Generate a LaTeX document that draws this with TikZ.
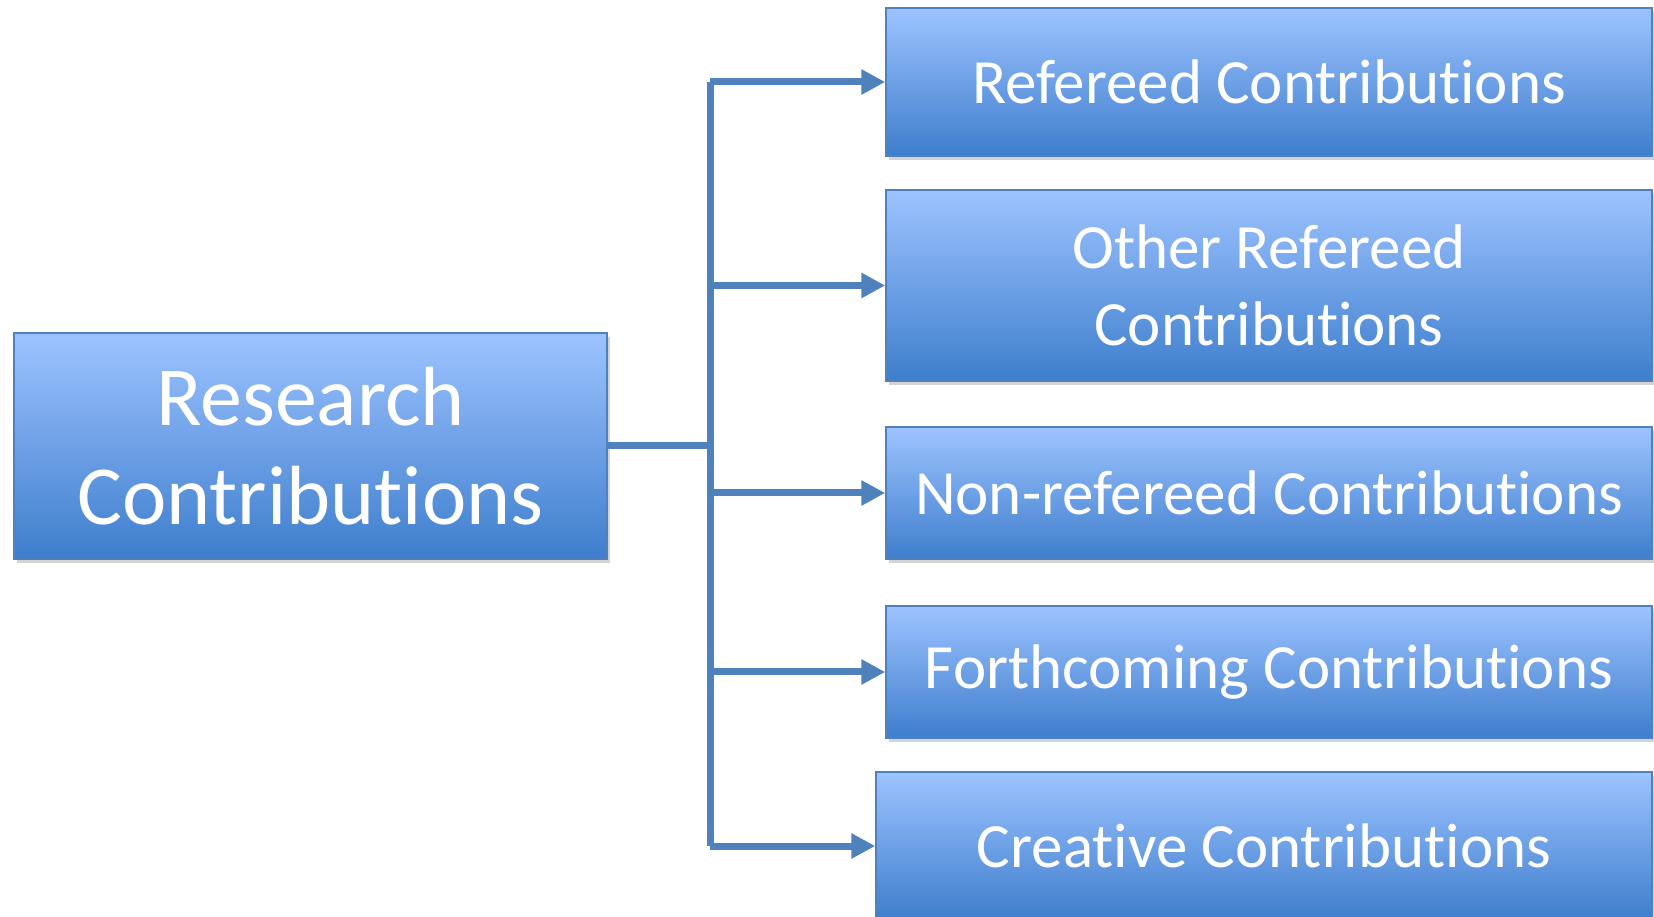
\documentclass[tikz,border=0pt]{standalone}
\usepackage{fontspec}
\setmainfont{Carlito}[Ligatures=NoCommon]
\usetikzlibrary{arrows.meta}
\usetikzlibrary{shadows}
\usepackage{xcolor}
\definecolor{linkblue}{HTML}{4F81BD}
\definecolor{boxtop}{HTML}{9DC3FF}
\definecolor{boxbot}{HTML}{3E7ECD}

\begin{document}
\begin{tikzpicture}[x=0.5pt,y=0.5pt,
  box/.style={draw=linkblue, line width=0.75pt, top color=boxtop, bottom color=boxbot,
    text=white, align=center, inner sep=0pt, minimum width=383pt,
    drop shadow={shadow xshift=1.5pt, shadow yshift=-2pt, opacity=0.35}},
  link/.style={linkblue, line width=3.5pt},
  tip/.style={-{Triangle[length=12pt, width=12pt]}}]
\useasboundingbox (0,0) rectangle (1654,916);
% main box
\node[box, minimum width=296.5pt, minimum height=113pt,
  font=\fontsize{42}{49.5}\selectfont] (res) at (310.5,470) {Research\\Contributions};
% kinds of contributions
\begin{scope}[every node/.append style={font=\fontsize{31.5}{38.5}\selectfont}]
\node[box, minimum height=74pt] (ref) at (1269,834) {Refereed Contributions};
\node[box, minimum height=95.5pt] (other) at (1269,630.5) {Other Refereed\\Contributions};
\node[box, minimum height=66pt] (nonref) at (1269,423) {Non-refereed Contributions};
\node[box, minimum height=66pt] (forth) at (1269,244) {Forthcoming Contributions};
\node[box, minimum width=388pt, minimum height=74pt] (crea) at (1264,70) {Creative Contributions};
\end{scope}
\coordinate (trunk) at (710,0);
\draw[link] (ref.west -| trunk) -- (crea.west -| trunk);
\draw[link] (res.east) -- (res.east -| trunk);
\foreach \n in {ref,other,nonref,forth,crea} {
  \draw[link, tip] (\n.west -| trunk) -- (\n.west);
}
\end{tikzpicture}
\end{document}
